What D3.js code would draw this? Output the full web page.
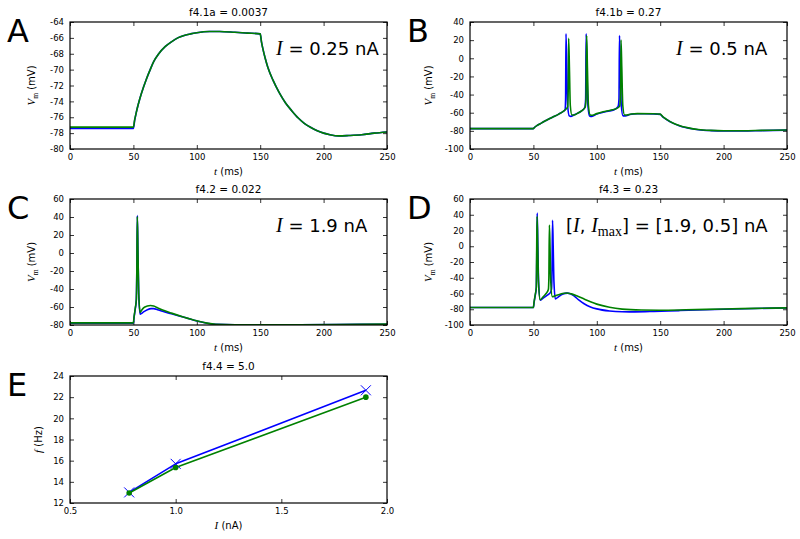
<!DOCTYPE html>
<html>
<head>
<meta charset="utf-8">
<script src="https://cdn.jsdelivr.net/npm/d3@7"></script>
<style>
  body { margin: 0; background: #fff; }
  svg { display: block; }
  text { font-family: "DejaVu Sans", sans-serif; fill: #000; }
</style>
</head>
<body>
<div id="chart"></div>
<script>
// ---- data ----
// A: I = 0.25 nA
const tA = [0, 50, 51, 52, 53, 55, 58, 60, 63, 66, 70, 75, 80, 85, 90, 95, 100, 110, 118, 130, 140, 150, 151, 152, 154, 156, 160, 165, 170, 175, 180, 185, 190, 195, 200, 205, 212, 220, 230, 240, 250];
const vAblue = [-77.4, -77.4, -76.4, -75.6, -74.9, -73.7, -72.2, -71.3, -70.1, -69.0, -68.0, -67.1, -66.5, -66.0, -65.7, -65.5, -65.35, -65.2, -65.2, -65.3, -65.4, -65.5, -66.5, -67.3, -68.6, -69.7, -71.3, -72.9, -74.2, -75.2, -76.1, -76.8, -77.3, -77.7, -78.0, -78.2, -78.35, -78.3, -78.2, -78.0, -77.85];
const vAgreen = [-77.25, -77.25, -76.3, -75.6, -74.9, -73.7, -72.2, -71.3, -70.1, -69.0, -68.0, -67.1, -66.5, -66.0, -65.7, -65.5, -65.35, -65.2, -65.2, -65.3, -65.4, -65.5, -66.5, -67.3, -68.6, -69.7, -71.3, -72.9, -74.2, -75.2, -76.1, -76.8, -77.3, -77.7, -78.0, -78.2, -78.35, -78.3, -78.2, -78.0, -77.85];

// B: I = 0.5 nA
const tBblue = [0, 50, 51, 53, 55, 58, 60, 65, 70, 73, 75, 75.4, 75.7, 76.3, 77, 78.3, 79.5, 82, 85, 88, 90.5, 91.2, 91.6, 92.2, 93, 94.3, 96, 100, 105, 110, 114, 116.8, 117.5, 117.9, 118.5, 119.3, 120.7, 122.5, 126, 132, 145, 150, 152, 155, 160, 165, 170, 175, 180, 190, 200, 215, 230, 250];
const vBblue = [-77.5, -77.5, -76, -74, -72.5, -70, -68.5, -65, -61.5, -59, -56.5, -45, 27, -10, -52, -63.5, -64, -62.5, -60.5, -58, -54.5, -45, 27, -10, -52, -63.5, -64, -61.5, -59.5, -58, -56.5, -53, -45, 25, -10, -52, -63.5, -63.5, -62, -61.2, -61.3, -61.8, -64.5, -67.5, -71.5, -74.3, -76.3, -77.7, -78.7, -79.7, -80.1, -80.1, -79.7, -79.2];
const tBgreen = [0, 50, 51, 53, 55, 58, 60, 65, 70, 73, 75, 77, 77.4, 77.8, 78.4, 79.1, 80.4, 82, 85, 88, 90.8, 91.5, 92, 92.6, 93.4, 94.8, 96.5, 100, 105, 110, 115, 118, 118.7, 119.1, 119.7, 120.5, 121.9, 123.5, 127, 132, 145, 150, 152, 155, 160, 165, 170, 175, 180, 190, 200, 215, 230, 250];
const vBgreen = [-77.5, -77.5, -76, -74, -72.5, -70, -68.5, -65, -61.5, -59, -57, -53.5, -40, 22, -10, -52, -62.5, -62.5, -60.5, -58, -54, -45, 25, -10, -52, -62.5, -62.8, -61, -59, -57.5, -55.8, -53, -40, 20, -10, -52, -62.5, -62.5, -61.5, -61, -61.2, -61.6, -64.3, -67.3, -71.3, -74.1, -76.1, -77.5, -78.5, -79.5, -79.9, -79.9, -79.5, -79.0];

// C: I = 1.9 nA
const tCblue = [0, 50, 50.5, 51.5, 52.3, 52.7, 53.1, 53.6, 54.2, 55.3, 56.5, 58, 61, 64, 66, 69, 73, 80, 90, 100, 108, 115, 130, 170, 210, 250];
const vCblue = [-78, -78, -72, -62, -52, -20, 41.5, 0, -45, -68, -67, -65.5, -63, -61.8, -61.8, -63, -64.8, -67.5, -71.5, -75.5, -78, -79.3, -79.8, -79.8, -79.5, -79.2];
const tCgreen = [0, 50, 50.5, 51.5, 52.3, 52.7, 53.1, 53.6, 54.2, 55.3, 56.5, 58, 61, 63.5, 66, 69, 73, 80, 90, 100, 108, 115, 130, 170, 210, 250];
const vCgreen = [-77.6, -77.6, -71, -61, -52, -20, 40.5, 0, -45, -66, -63.5, -61, -59, -58.4, -59, -60.8, -63.3, -66.8, -71.3, -75.3, -77.9, -79.2, -79.7, -79.7, -79.4, -79.0];

// D: [I, Imax] = [1.9, 0.5] nA
const tDblue = [0, 50, 50.5, 51.5, 52.3, 52.6, 53, 53.5, 54.1, 55.5, 58, 61, 63.5, 64.3, 64.7, 65.1, 65.6, 66.2, 67.3, 69.5, 72, 75, 77, 79, 82, 86, 90, 95, 100, 110, 120, 130, 145, 165, 200, 225, 250];
const vDblue = [-77.8, -77.8, -72, -62, -52, -20, 42, 0, -45, -68.5, -65.5, -62, -58.5, -54, -30, 33, 0, -45, -66.8, -64.5, -61.5, -59.8, -59.5, -60.3, -63, -68.5, -73, -77, -79.5, -82.2, -83.2, -83.3, -82.8, -81.7, -80, -79, -78.3];
const tDgreen = [0, 50, 50.5, 51.5, 52.3, 52.5, 52.9, 53.4, 54, 55.3, 57.5, 60, 61.8, 62.2, 62.6, 63.1, 63.7, 64.9, 67, 70, 73, 76, 80, 85, 90, 95, 100, 110, 120, 135, 150, 170, 200, 225, 250];
const vDgreen = [-77.8, -77.8, -71, -61, -52, -20, 38, 0, -45, -68, -64.5, -60, -55, -40, 27, 0, -45, -64, -63, -61.5, -60, -59.3, -60.5, -63.5, -67, -70.5, -73.5, -77.5, -79.8, -81, -81.2, -80.7, -79.6, -78.9, -78.2];

// E: f-I curve
const iE = [0.78, 1.0, 1.9];
const fEblue = [13.0, 15.7, 22.65];
const fEgreen = [12.95, 15.35, 22.0];

// tick values
const tTicks = [0, 50, 100, 150, 200, 250];
const vTicksA = [-80, -78, -76, -74, -72, -70, -68, -66, -64];
const vTicksB = [-100, -80, -60, -40, -20, 0, 20, 40];
const vTicksC = [-80, -60, -40, -20, 0, 20, 40, 60];
const vTicksD = [-100, -80, -60, -40, -20, 0, 20, 40, 60];
const iTicksE = [0.5, 1.0, 1.5, 2.0];
const fTicksE = [12, 14, 16, 18, 20, 22, 24];

const BLUE = "#0000ff", GREEN = "#008000";

const width = 800, height = 539;
const svg = d3.select("#chart").append("svg")
    .attr("width", width)
    .attr("height", height);

const fmt = d => String(d).replace("\u2212", "-");

let clipId = 0;

function drawPanel(p) {
    const b = p.box;
    const x = d3.scaleLinear().domain(p.xDomain).range([b.left, b.right]);
    const y = d3.scaleLinear().domain(p.yDomain).range([b.bottom, b.top]);
    const g = svg.append("g");

    const cid = "clip" + (clipId++);
    g.append("clipPath").attr("id", cid)
        .append("rect")
        .attr("x", b.left).attr("y", b.top)
        .attr("width", b.right - b.left).attr("height", b.bottom - b.top);

    // axes, ticks inward on all four sides
    g.append("g").attr("transform", `translate(0,${b.bottom})`)
        .call(d3.axisBottom(x).tickValues(p.xTicks).tickSizeInner(-4).tickSizeOuter(0).tickPadding(4.5).tickFormat(p.xFormat || fmt));
    g.append("g").attr("transform", `translate(0,${b.top})`)
        .call(d3.axisTop(x).tickValues(p.xTicks).tickSizeInner(-4).tickSizeOuter(0).tickFormat(""));
    g.append("g").attr("transform", `translate(${b.left},0)`)
        .call(d3.axisLeft(y).tickValues(p.yTicks).tickSizeInner(-4).tickSizeOuter(0).tickPadding(6).tickFormat(fmt));
    g.append("g").attr("transform", `translate(${b.right},0)`)
        .call(d3.axisRight(y).tickValues(p.yTicks).tickSizeInner(-4).tickSizeOuter(0).tickFormat(""));
    g.selectAll(".domain").remove();
    g.selectAll(".tick line").attr("stroke", "#000").attr("stroke-width", 0.8);
    g.selectAll(".tick text").attr("font-size", 8.5).attr("font-family", "DejaVu Sans").attr("fill", "#000");

    // series
    const plot = g.append("g").attr("clip-path", `url(#${cid})`);
    p.series.forEach(s => {
        const pts = s.t.map((t, i) => [t, s.v[i]]);
        const line = d3.line()
            .x(d => x(d[0]))
            .y(d => y(d[1]))
            .curve(s.curve || d3.curveMonotoneX);
        plot.append("path")
            .datum(pts)
            .attr("fill", "none")
            .attr("stroke", s.color)
            .attr("stroke-width", 1.6)
            .attr("stroke-linejoin", "round")
            .attr("d", line);
        if (s.marker === "x") {
            g.selectAll(null).data(pts).enter().append("path")
                .attr("d", d => {
                    const cx = x(d[0]), cy = y(d[1]), r = 5;
                    return `M${cx - r},${cy - r}L${cx + r},${cy + r}M${cx - r},${cy + r}L${cx + r},${cy - r}`;
                })
                .attr("stroke", s.color).attr("stroke-width", 1);
        } else if (s.marker === "o") {
            g.selectAll(null).data(pts).enter().append("circle")
                .attr("cx", d => x(d[0])).attr("cy", d => y(d[1]))
                .attr("r", 2.8).attr("fill", s.color);
        }
    });

    // frame
    g.append("rect")
        .attr("x", b.left).attr("y", b.top)
        .attr("width", b.right - b.left).attr("height", b.bottom - b.top)
        .attr("fill", "none").attr("stroke", "#000").attr("stroke-width", 1.2);

    // title
    g.append("text")
        .attr("x", (b.left + b.right) / 2).attr("y", b.top - 6)
        .attr("text-anchor", "middle").attr("font-size", 10.5)
        .text(p.title);

    // panel letter
    g.append("text")
        .attr("x", b.left - 63).attr("y", b.top + 20)
        .attr("font-size", 32)
        .text(p.letter);

    // x label
    const xl = g.append("text")
        .attr("x", (b.left + b.right) / 2).attr("y", b.bottom + 26)
        .attr("text-anchor", "middle").attr("font-size", 10);
    xl.append("tspan").attr("font-family", "Liberation Serif").attr("font-style", "italic").attr("font-size", 11).text(p.xVar);
    xl.append("tspan").text(" " + p.xUnit);

    // y label
    const yl = g.append("text")
        .attr("transform", `translate(${b.left + p.yLabelOffset},${(b.top + b.bottom) / 2}) rotate(-90)`)
        .attr("text-anchor", "middle").attr("font-size", 10);
    yl.append("tspan").attr("font-family", "Liberation Serif").attr("font-style", "italic").attr("font-size", 11).text(p.yVar);
    if (p.ySub) {
        yl.append("tspan").attr("font-family", "Liberation Serif").attr("font-size", 7.5).attr("dy", 2.5).text(p.ySub);
        yl.append("tspan").attr("dy", -2.5).text(" " + p.yUnit);
    } else {
        yl.append("tspan").text(" " + p.yUnit);
    }

    // annotation (left aligned)
    if (p.note) {
        const nt = g.append("text")
            .attr("x", b.left + p.noteX).attr("y", b.top + 33)
            .attr("font-size", 18);
        p.note.forEach(part => {
            const ts = nt.append("tspan").text(part.s);
            if (part.it) ts.attr("font-family", "Liberation Serif").attr("font-style", "italic").attr("font-size", 20);
            if (part.sub) ts.attr("font-family", "Liberation Serif").attr("font-size", 14).attr("dy", 4);
            if (part.up) ts.attr("dy", -4);
        });
    }
}

drawPanel({
    box: { left: 70, right: 387, top: 22, bottom: 149 },
    xDomain: [0, 250], yDomain: [-80, -64], xTicks: tTicks, yTicks: vTicksA,
    series: [{ t: tA, v: vAblue, color: BLUE }, { t: tA, v: vAgreen, color: GREEN }],
    title: "f4.1a = 0.0037", letter: "A",
    xVar: "t", xUnit: "(ms)", yVar: "V", ySub: "m", yUnit: "(mV)", yLabelOffset: -35,
    note: [{ s: "I", it: true }, { s: " = 0.25 nA" }], noteX: 206
});
drawPanel({
    box: { left: 470, right: 787, top: 22, bottom: 149 },
    xDomain: [0, 250], yDomain: [-100, 40], xTicks: tTicks, yTicks: vTicksB,
    series: [{ t: tBblue, v: vBblue, color: BLUE }, { t: tBgreen, v: vBgreen, color: GREEN }],
    title: "f4.1b = 0.27", letter: "B",
    xVar: "t", xUnit: "(ms)", yVar: "V", ySub: "m", yUnit: "(mV)", yLabelOffset: -38,
    note: [{ s: "I", it: true }, { s: " = 0.5 nA" }], noteX: 206
});
drawPanel({
    box: { left: 70, right: 387, top: 199, bottom: 325 },
    xDomain: [0, 250], yDomain: [-80, 60], xTicks: tTicks, yTicks: vTicksC,
    series: [{ t: tCblue, v: vCblue, color: BLUE }, { t: tCgreen, v: vCgreen, color: GREEN }],
    title: "f4.2 = 0.022", letter: "C",
    xVar: "t", xUnit: "(ms)", yVar: "V", ySub: "m", yUnit: "(mV)", yLabelOffset: -35,
    note: [{ s: "I", it: true }, { s: " = 1.9 nA" }], noteX: 206
});
drawPanel({
    box: { left: 470, right: 787, top: 199, bottom: 325 },
    xDomain: [0, 250], yDomain: [-100, 60], xTicks: tTicks, yTicks: vTicksD,
    series: [{ t: tDblue, v: vDblue, color: BLUE }, { t: tDgreen, v: vDgreen, color: GREEN }],
    title: "f4.3 = 0.23", letter: "D",
    xVar: "t", xUnit: "(ms)", yVar: "V", ySub: "m", yUnit: "(mV)", yLabelOffset: -38,
    note: [{ s: "[" }, { s: "I", it: true }, { s: ", " }, { s: "I", it: true }, { s: "max", sub: true }, { s: "] = [1.9, 0.5] nA", up: true }], noteX: 96
});
drawPanel({
    box: { left: 70, right: 387, top: 376, bottom: 503 },
    xDomain: [0.5, 2.0], yDomain: [12, 24], xTicks: iTicksE, yTicks: fTicksE,
    xFormat: d3.format(".1f"),
    series: [
        { t: iE, v: fEblue, color: BLUE, marker: "x", curve: d3.curveLinear },
        { t: iE, v: fEgreen, color: GREEN, marker: "o", curve: d3.curveLinear }
    ],
    title: "f4.4 = 5.0", letter: "E",
    xVar: "I", xUnit: "(nA)", yVar: "f", yUnit: "(Hz)", yLabelOffset: -28
});
</script>
</body>
</html>
